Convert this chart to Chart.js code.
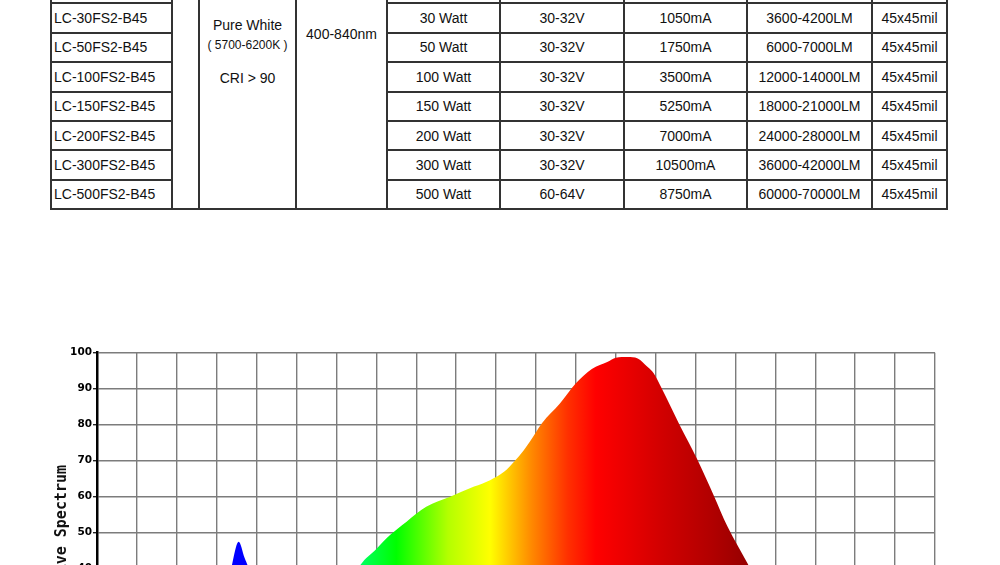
<!DOCTYPE html>
<html>
<head>
<meta charset="utf-8">
<script src="https://cdn.jsdelivr.net/npm/chart.js@4.4.0/dist/chart.umd.min.js"></script>
<style>
    html, body { margin: 0; padding: 0; background: #fff; }
    body { width: 1000px; height: 565px; overflow: hidden; position: relative; font-family: "Liberation Sans", Arial, sans-serif; }
    #spec {
        position: absolute; left: 50px; top: -27px;
        border-collapse: collapse; table-layout: fixed;
        font-size: 14px; color: #111;
    }
    #spec td { border: 2px solid #333; height: 27.4px; padding: 0; text-align: center; vertical-align: middle; white-space: nowrap; }
    #spec td.model { text-align: left; padding-left: 2px; }
    #spec td.merged { vertical-align: top; }
    .small { font-size: 12px; }
    #chartBox { position: absolute; left: 0; top: 330px; width: 1000px; height: 430px; }
</style>
</head>
<body>
<table id="spec">
    <colgroup>
        <col style="width:121px"><col style="width:27px"><col style="width:97px"><col style="width:91px">
        <col style="width:113px"><col style="width:124px"><col style="width:123px"><col style="width:125px"><col style="width:75px">
    </colgroup>
    <tbody id="specBody"></tbody>
</table>
<div id="chartBox"><canvas id="spectrumChart"></canvas></div>

<script>
    // table rows
    const models = ['LC-30FS2-B45', 'LC-50FS2-B45', 'LC-100FS2-B45', 'LC-150FS2-B45', 'LC-200FS2-B45', 'LC-300FS2-B45', 'LC-500FS2-B45'];
    const watts = ['30 Watt', '50 Watt', '100 Watt', '150 Watt', '200 Watt', '300 Watt', '500 Watt'];
    const voltages = ['30-32V', '30-32V', '30-32V', '30-32V', '30-32V', '30-32V', '60-64V'];
    const currents = ['1050mA', '1750mA', '3500mA', '5250mA', '7000mA', '10500mA', '8750mA'];
    const lumens = ['3600-4200LM', '6000-7000LM', '12000-14000LM', '18000-21000LM', '24000-28000LM', '36000-42000LM', '60000-70000LM'];
    const chips = ['45x45mil', '45x45mil', '45x45mil', '45x45mil', '45x45mil', '45x45mil', '45x45mil'];

    // spectrum (nm, relative %)
    const wavelengths = [380, 400, 420, 430, 440, 445, 448, 451, 454, 456, 460, 470, 480, 490, 500, 512, 520, 527, 535, 545, 557, 569, 577, 584, 589, 594, 597, 603, 612, 620, 628, 636, 640, 646, 651, 656, 659, 663, 672, 681, 689, 696, 706, 715, 725, 740, 760, 780, 800];
    const intensity = [0, 0.5, 2, 6, 18, 32, 42, 47.5, 43, 40, 28, 17, 16, 20, 28, 41, 45.5, 49.4, 53, 57.2, 60, 62.8, 64.6, 66.9, 69.7, 73, 75.3, 80.4, 85.9, 91.5, 95.5, 97.5, 98.6, 98.8, 98.4, 96, 94.3, 90.1, 79.9, 70.2, 60.5, 51.7, 41.5, 32, 23, 13, 5, 2, 0.5];
    const yTicks = [0, 10, 20, 30, 40, 50, 60, 70, 80, 90, 100];

    const spectrumStops = [
        [380, '#0000ff'], [456, '#0000ff'], [490, '#00ffff'], [512, '#00ff60'], [530, '#00ff00'],
        [556, '#b4ff00'], [577, '#ffff00'], [588, '#ffc000'], [598, '#ff8800'], [616, '#ff3000'],
        [630, '#ff0000'], [647, '#e80000'], [664, '#d00000'], [689, '#b00000'], [704, '#990000'], [800, '#800000']
    ];

    function renderTable() {
        let html = '<tr><td></td>' +
            '<td class="merged" rowspan="8"></td>' +
            '<td class="merged" rowspan="8"><div style="padding-top:42px;line-height:16px">Pure White</div>' +
            '<div class="small" style="line-height:16px;margin-top:4px">( 5700-6200K )</div>' +
            '<div style="line-height:16px;margin-top:17px">CRI &gt; 90</div></td>' +
            '<td class="merged" rowspan="8"><div style="padding-top:51px;line-height:16px">400-840nm</div></td>' +
            '<td></td><td></td><td></td><td></td><td></td></tr>';
        models.forEach((m, i) => {
            html += `<tr><td class="model">${m}</td><td>${watts[i]}</td><td>${voltages[i]}</td><td>${currents[i]}</td><td>${lumens[i]}</td><td>${chips[i]}</td></tr>`;
        });
        document.getElementById('specBody').innerHTML = html;
    }

    function spectrumFill(context) {
        const chart = context.chart;
        const area = chart.chartArea;
        if (!area) return null;
        const xScale = chart.scales.x;
        const g = chart.ctx.createLinearGradient(area.left, 0, area.right, 0);
        spectrumStops.forEach(([nm, col]) => {
            const t = (xScale.getPixelForValue(nm) - area.left) / (area.right - area.left);
            g.addColorStop(Math.min(1, Math.max(0, t)), col);
        });
        return g;
    }

    renderTable();

    const gridStyle = { color: '#7c7c7c', lineWidth: 1.4, tickLength: 4, tickColor: '#222' };

    new Chart(document.getElementById('spectrumChart').getContext('2d'), {
        type: 'line',
        data: {
            datasets: [{
                data: wavelengths.map((nm, i) => ({ x: nm, y: intensity[i] })),
                fill: 'origin',
                backgroundColor: spectrumFill,
                borderWidth: 0,
                pointRadius: 0,
                cubicInterpolationMode: 'monotone'
            }]
        },
        options: {
            responsive: true,
            maintainAspectRatio: false,
            animation: false,
            layout: { padding: { top: 22.7, right: 65, left: 0, bottom: 0 } },
            plugins: { legend: { display: false }, tooltip: { enabled: false } },
            scales: {
                x: {
                    type: 'linear', min: 380, max: 800,
                    ticks: { stepSize: 20, autoSkip: false, color: '#000', font: { family: 'DejaVu Sans', size: 10, weight: 'bold' } },
                    grid: gridStyle,
                    border: { color: '#000', width: 2 },
                    afterFit: s => { s.height = 47.3; }
                },
                y: {
                    min: 0, max: 100,
                    afterBuildTicks: s => { s.ticks = yTicks.map(v => ({ value: v })); },
                    ticks: { padding: 1, color: '#000', font: { family: 'DejaVu Sans', size: 10.5, weight: 'bold' } },
                    grid: gridStyle,
                    border: { color: '#000', width: 2.5 },
                    title: {
                        display: true, text: 'Relative Spectrum  ', color: '#111',
                        font: { family: 'DejaVu Sans Mono', size: 15, weight: 'bold' },
                        padding: { top: 53, bottom: 0 }
                    },
                    afterFit: s => { s.width = 97; }
                }
            }
        }
    });
</script>
</body>
</html>
